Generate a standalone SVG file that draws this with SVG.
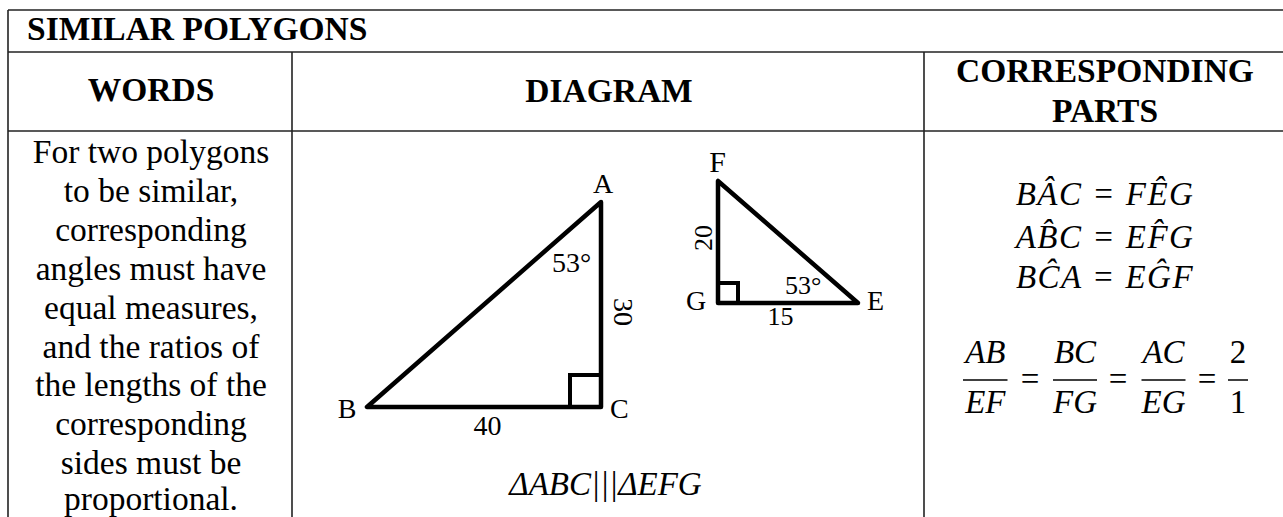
<svg xmlns="http://www.w3.org/2000/svg" width="1283" height="517" viewBox="0 0 1283 517">
<style>
.grid{stroke:#222;stroke-width:1.6;fill:none}
.tri{stroke:#000;stroke-width:4.5;fill:none;stroke-linejoin:round;stroke-linecap:round}
.sq{stroke:#000;stroke-width:4;fill:none;stroke-linejoin:miter}
.hd{font-family:"Liberation Serif","Times New Roman",serif;font-weight:bold;font-size:33.5px;fill:#000}
.tx{font-family:"Liberation Serif","Times New Roman",serif;font-size:33.5px;fill:#000;text-anchor:middle}
.lb{font-family:"Liberation Serif","Times New Roman",serif;font-size:28px;fill:#000}
.ls{font-family:"Liberation Serif","Times New Roman",serif;font-size:26px;fill:#000}
.m{font-family:"Liberation Serif","Times New Roman",serif;font-style:italic;font-size:33px;fill:#000;text-anchor:middle}
.ma{letter-spacing:1.5px}
.mu{font-family:"Liberation Serif","Times New Roman",serif;font-size:33px;fill:#000;text-anchor:middle}
.bar{stroke:#000;stroke-width:1.5}
</style>
<rect width="1283" height="517" fill="#fff"/>
<g id="table">
<line class="grid" x1="8" y1="10" x2="1283" y2="10"/>
<line class="grid" x1="8" y1="52" x2="1283" y2="52"/>
<line class="grid" x1="8" y1="131" x2="1283" y2="131"/>
<line class="grid" x1="8" y1="10" x2="8" y2="517"/>
<line class="grid" x1="292" y1="52" x2="292" y2="517"/>
<line class="grid" x1="924" y1="52" x2="924" y2="517"/>
</g>
<g id="headers">
<text class="hd" x="27" y="40">SIMILAR POLYGONS</text>
<text class="hd" x="151" y="101" text-anchor="middle">WORDS</text>
<text class="hd" x="609" y="102" text-anchor="middle">DIAGRAM</text>
<text class="hd" x="1105" y="82" text-anchor="middle">CORRESPONDING</text>
<text class="hd" x="1105" y="122" text-anchor="middle">PARTS</text>
</g>
<g id="words">
<text class="tx" x="151" y="163">For two polygons</text>
<text class="tx" x="151" y="201.9">to be similar,</text>
<text class="tx" x="151" y="240.8">corresponding</text>
<text class="tx" x="151" y="279.7">angles must have</text>
<text class="tx" x="151" y="318.6">equal measures,</text>
<text class="tx" x="151" y="357.5">and the ratios of</text>
<text class="tx" x="151" y="396.4">the lengths of the</text>
<text class="tx" x="151" y="435.3">corresponding</text>
<text class="tx" x="151" y="474.2">sides must be</text>
<text class="tx" x="151" y="510">proportional.</text>
</g>
<g id="triangle-abc">
<polygon class="tri" points="601,202 367,407 601,407"/>
<polyline class="sq" points="570,407 570,375 601,375"/>
<text class="lb" x="603" y="193" text-anchor="middle">A</text>
<text class="lb" x="347" y="418" text-anchor="middle">B</text>
<text class="lb" x="610" y="418">C</text>
<text class="lb" x="552" y="272">53°</text>
<text class="lb" x="487.5" y="435" text-anchor="middle">40</text>
<text class="lb" transform="translate(614,312) rotate(90)" text-anchor="middle">30</text>
</g>
<g id="triangle-efg">
<polygon class="tri" points="718,181 718,303 858,303"/>
<polyline class="sq" points="718,283 738,283 738,303"/>
<text class="lb" x="717.5" y="172" text-anchor="middle" style="font-size:30px">F</text>
<text class="lb" x="696" y="310" text-anchor="middle">G</text>
<text class="lb" x="867" y="310">E</text>
<text class="ls" x="785" y="294">53°</text>
<text class="ls" x="780.5" y="325" text-anchor="middle">15</text>
<text class="ls" transform="translate(712,238) rotate(-90)" text-anchor="middle">20</text>
</g>
<g id="similarity">
<text class="m" x="605.5" y="495">ΔABC|||ΔEFG</text>
</g>
<g id="corresponding-parts">
<text class="m ma" x="1105" y="205">BÂC = FÊG</text>
<text class="m ma" x="1105" y="248">AB̂C = EF̂G</text>
<text class="m ma" x="1105" y="288">BĈA = EĜF</text>
<text class="m" x="985.3" y="363">AB</text>
<line class="bar" x1="963" y1="380" x2="1007.5" y2="380"/>
<text class="m" x="985.3" y="413">EF</text>
<text class="mu" x="1030" y="390">=</text>
<text class="m" x="1075" y="363">BC</text>
<line class="bar" x1="1053" y1="380" x2="1097" y2="380"/>
<text class="m" x="1075" y="413">FG</text>
<text class="mu" x="1118" y="390">=</text>
<text class="m" x="1163.5" y="363">AC</text>
<line class="bar" x1="1141.5" y1="380" x2="1185.5" y2="380"/>
<text class="m" x="1163.5" y="413">EG</text>
<text class="mu" x="1207" y="390">=</text>
<text class="mu" x="1238" y="363">2</text>
<line class="bar" x1="1228" y1="380" x2="1248" y2="380"/>
<text class="mu" x="1238" y="413">1</text>
</g>
</svg>
